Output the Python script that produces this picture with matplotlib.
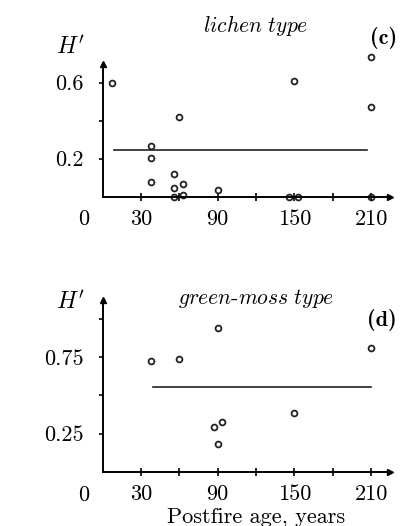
import matplotlib
matplotlib.use("Agg")
import matplotlib.pyplot as plt

# ================= data =================
# (c) lichen type
lichen_age = [7, 38, 38, 38, 60, 56, 56, 63, 63, 56, 90, 150, 146, 153, 210, 210, 210]
lichen_h = [0.60, 0.267, 0.205, 0.079, 0.42, 0.121, 0.047, 0.068, 0.009, 0.0, 0.037,
            0.61, 0.0, 0.0, 0.737, 0.472, 0.0]
lichen_mean_x = [9, 207]
lichen_mean_y = [0.244, 0.244]

# (d) green-moss type
moss_age = [38, 60, 90, 210, 87, 93, 90, 150]
moss_h = [0.722, 0.735, 0.941, 0.807, 0.291, 0.324, 0.183, 0.383]
moss_mean_x = [39, 210]
moss_mean_y = [0.554, 0.554]

xticks = [30, 60, 90, 120, 150, 180, 210]
xticklabels = ["30", "", "90", "", "150", "", "210"]

plt.rcParams["font.family"] = ["cmr10", "DejaVu Serif"]
plt.rcParams["mathtext.fontset"] = "cm"
plt.rcParams["axes.formatter.use_mathtext"] = True

W, H = 404, 526
FS = 16
fig = plt.figure(figsize=(W / 100, H / 100), dpi=100)


def px_axes(left, bottom, width, height):
    return fig.add_axes([left / W, (H - bottom) / H, width / W, height / H])


def style_axes(ax, ymax, yticks, yticklabels, yminor):
    ax.set_xlim(0, 225)
    ax.set_ylim(0, ymax)
    for s in ["top", "right"]:
        ax.spines[s].set_visible(False)
    for s in ["left", "bottom"]:
        ax.spines[s].set_linewidth(1.4)
    ax.plot(1, 0, ">k", ms=5, transform=ax.get_yaxis_transform(), clip_on=False)
    ax.plot(0, 1, "^k", ms=5, transform=ax.get_xaxis_transform(), clip_on=False)
    ax.set_xticks(xticks)
    ax.set_xticklabels(xticklabels)
    ax.set_yticks(yticks)
    ax.set_yticklabels(yticklabels)
    ax.set_yticks(yminor, minor=True)
    ax.tick_params(axis="x", direction="inout", length=6, width=1.2, pad=6, labelsize=FS)
    ax.tick_params(axis="y", direction="out", length=3, width=1.2, pad=11, labelsize=FS)
    ax.tick_params(axis="y", which="minor", direction="out", length=3, width=1.2)
    ax.annotate("0", xy=(-15, 0), xycoords="data", xytext=(0, -9.5),
                textcoords="offset points", ha="center", va="top", fontsize=FS,
                annotation_clip=False)


# ---- (c) ----
ax1 = px_axes(102.7, 196.7, 287.6, 133)
style_axes(ax1, 0.70, [0.2, 0.6], ["0.2", "0.6"], [0.4])
ax1.plot(lichen_mean_x, lichen_mean_y, color="#222222", lw=1.2)
ax1.plot(lichen_age, lichen_h, "o", mfc="none", mec="#222222", ms=4.2, mew=1.3, clip_on=False)
ax1.text(0.533, 1.29, r"$\mathit{lichen\ type}$", transform=ax1.transAxes,
         ha="center", va="center", fontsize=15.5)
ax1.text(0.975, 1.19, "(c)", transform=ax1.transAxes, ha="center",
         va="center", fontsize=16, family=["cmb10", "DejaVu Serif"])
ax1.text(-0.114, 1.126, r"$H^\prime$", transform=ax1.transAxes, ha="center",
         va="center", fontsize=17)

# ---- (d) ----
ax2 = px_axes(102.7, 472, 287.6, 171.7)
style_axes(ax2, 1.12, [0.25, 0.75], ["0.25", "0.75"], [0.5, 1.0])
ax2.plot(moss_mean_x, moss_mean_y, color="#222222", lw=1.2)
ax2.plot(moss_age, moss_h, "o", mfc="none", mec="#222222", ms=4.2, mew=1.3, clip_on=False)
ax2.text(0.533, 1.013, r"$\mathit{green}$-$\mathit{moss\ type}$", transform=ax2.transAxes,
         ha="center", va="center", fontsize=15.5)
ax2.text(0.97, 0.885, "(d)", transform=ax2.transAxes, ha="center",
         va="center", fontsize=16, family=["cmb10", "DejaVu Serif"])
ax2.text(-0.114, 0.99, r"$H^\prime$", transform=ax2.transAxes, ha="center",
         va="center", fontsize=17)
ax2.text(0.533, -0.262, "Postfire age, years", transform=ax2.transAxes,
         ha="center", va="center", fontsize=FS)

fig.savefig("out.png", dpi=100)
